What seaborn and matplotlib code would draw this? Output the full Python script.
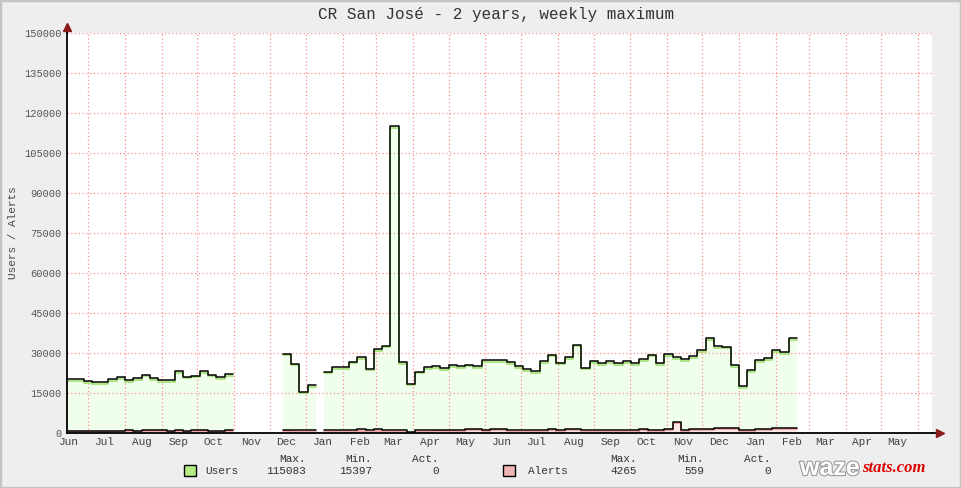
import matplotlib
matplotlib.use("Agg")
import matplotlib.pyplot as plt
import matplotlib.dates as mdates
import matplotlib.patheffects as pe
from matplotlib.patches import Rectangle
from matplotlib.transforms import offset_copy
import numpy as np
import pandas as pd
import seaborn as sns

nan = np.nan
# weekly maximum, one value per week starting 13 Jun 2013
users = [20100, 20100, 19400, 19000, 19000, 20250, 21000, 19750, 20500, 21900,
         20500, 19750, 19750, 23250, 21100, 21400, 23100, 21900, 21000, 22100,
         nan, nan, nan, nan, nan, nan,
         29750, 25900, 15397, 17900, nan, 22900, 24750, 24750, 26750, 28500,
         24100, 31400, 32750, 115083, 26500, 18400, 23000, 24750, 25100, 24250,
         25500, 25000, 25600, 25000, 27250, 27250, 27250, 26500, 25000, 24000,
         23100, 26900, 29400, 26400, 28400, 33100, 24500, 27000, 26250, 27000,
         26250, 26900, 26100, 27600, 29400, 26100, 29600, 28400, 27600, 28750,
         31000, 35600, 32600, 32400, 25500, 17500, 23500, 27250, 28100, 31100,
         30250, 35600]
alerts = [850, 850, 850, 850, 850, 850, 850, 1250, 850, 1250,
          1250, 1250, 850, 1250, 850, 1250, 1250, 850, 850, 1250,
          nan, nan, nan, nan, nan, nan,
          1200, 1000, 1000, 1000, nan, 1000, 1000, 1000, 1125, 1500,
          1125, 1500, 1125, 1125, 1125, 559, 1125, 1125, 1250, 1250,
          1125, 1125, 1600, 1600, 1250, 1600, 1600, 1125, 1125, 1125,
          1125, 1125, 1600, 1125, 1600, 1600, 1125, 1125, 1125, 1125,
          1125, 1125, 1125, 1600, 1125, 1125, 1600, 4265, 1125, 1600,
          1600, 1600, 2000, 2000, 2000, 1125, 1125, 1600, 1600, 2000,
          2000, 2000]

stat_heads = ["Max.", "Min.", "Act."]
users_stats = ["115083", "15397", "0"]
alerts_stats = ["4265", "559", "0"]

df = pd.DataFrame({"date": pd.date_range("2013-06-13", periods=len(users), freq="7D"),
                   "users": users, "alerts": alerts})
valid = df["users"].notna()
df["seg"] = (valid != valid.shift()).cumsum()
df = df[valid]
# close each segment with the end of its last week
tails = df.groupby("seg").tail(1).copy()
tails["date"] += pd.Timedelta(days=7)
steps = pd.concat([df, tails]).sort_values(["seg", "date"]).reset_index(drop=True)

sns.set_style("white")
plt.rcParams["font.family"] = ["Liberation Mono", "DejaVu Sans Mono"]

W, H = 961, 488
fig = plt.figure(figsize=(W / 100, H / 100), dpi=100, facecolor="#EEEEEE")
ax = fig.add_axes([67 / W, 55 / H, 865 / W, 400 / H])
ax.set_facecolor("white")

for _, g in steps.groupby("seg"):
    ax.fill_between(g["date"], g["users"], step="post", color="#F0FEEC", lw=0, zorder=1)
    ax.fill_between(g["date"], g["alerts"], step="post", color="#FFE6E6", lw=0, zorder=1.1)

shadow = offset_copy(ax.transData, fig=fig, x=0, y=-1.5, units="dots")
sns.lineplot(data=steps, x="date", y="users", units="seg", estimator=None,
             drawstyle="steps-post", color="#A6E27A", lw=1.3, transform=shadow, ax=ax, zorder=3)
sns.lineplot(data=steps, x="date", y="users", units="seg", estimator=None,
             drawstyle="steps-post", color="black", lw=1.1, ax=ax, zorder=4)
sns.lineplot(data=steps, x="date", y="alerts", units="seg", estimator=None,
             drawstyle="steps-post", color="#F2A0A0", lw=1.3, transform=shadow, ax=ax, zorder=3)
sns.lineplot(data=steps, x="date", y="alerts", units="seg", estimator=None,
             drawstyle="steps-post", color="black", lw=1.1, ax=ax, zorder=4)

ax.set_xlim(pd.Timestamp("2013-06-13"), pd.Timestamp("2015-06-13"))
ax.set_ylim(0, 150000)
ax.set_yticks(range(0, 150001, 15000))
ax.set_xlabel("")
ax.set_ylabel("")

ax.xaxis.set_major_locator(mdates.MonthLocator())
ax.xaxis.set_major_formatter(plt.NullFormatter())
ax.xaxis.set_minor_locator(mdates.MonthLocator(bymonthday=15))
ax.xaxis.set_minor_formatter(mdates.DateFormatter("%b"))
ax.tick_params(axis="x", which="both", length=0, pad=3, labelsize=8, labelcolor="#444444")
ax.tick_params(axis="y", length=3, width=0.8, color="#999999", pad=1, labelsize=7.5,
               labelcolor="#555555")

ax.grid(True, which="major", color="#FF8C8C", linestyle=(0, (1, 2)), lw=0.9)
ax.set_axisbelow(False)
for side in ["top", "right"]:
    ax.spines[side].set_visible(False)
for side in ["left", "bottom"]:
    ax.spines[side].set_color("black")
    ax.spines[side].set_linewidth(1.3)
    ax.spines[side].set_zorder(5)

# axis arrows
ax.plot([1, 1.006], [0, 0], transform=ax.transAxes, clip_on=False, color="black", lw=1.3)
ax.plot(1.0095, 0, marker=">", ms=5.5, color="#8B1A1A", transform=ax.transAxes, clip_on=False)
ax.plot([0, 0], [1, 1.01], transform=ax.transAxes, clip_on=False, color="black", lw=1.3)
ax.plot(0, 1.0145, marker="^", ms=5.5, color="#8B1A1A", transform=ax.transAxes, clip_on=False)

fig.text(496 / W, 1 - 15 / H, "CR San José - 2 years, weekly maximum", ha="center",
         va="center", fontsize=11.5, color="#333333")
fig.text(13 / W, 1 - 233 / H, "Users / Alerts", rotation=90, ha="center", va="center",
         fontsize=8, color="#444444")

# legend
head_y = 1 - 459 / H
row_y = 1 - 470.5 / H
for label, color, sw_x, text_x, cols, stats in [
        ("Users", "#B4EC84", 184, 205, [306, 372, 439], users_stats),
        ("Alerts", "#F0B4B4", 503, 528, [637, 704, 771], alerts_stats)]:
    fig.patches.append(Rectangle((sw_x / W, 1 - 476 / H), 12 / W, 11 / H, facecolor=color,
                                 edgecolor="black", lw=1, transform=fig.transFigure))
    fig.text(text_x / W, row_y, label, ha="left", va="center", fontsize=8, color="#333333")
    for cx, head, val in zip(cols, stat_heads, stats):
        fig.text(cx / W, head_y, head, ha="right", va="center", fontsize=8, color="#333333")
        fig.text(cx / W, row_y, val, ha="right", va="center", fontsize=8, color="#333333")

# wazestats logo
fig.text(800 / W, 1 - 475 / H, "waze", fontfamily="Liberation Sans", fontweight="bold",
         fontsize=18, color="white", ha="left", va="baseline",
         path_effects=[pe.withStroke(linewidth=1.6, foreground="#9A9A9A")])
fig.text(862 / W, 1 - 472 / H, "stats.com", fontfamily="Liberation Serif", fontstyle="italic",
         fontweight="bold", fontsize=12, color="#DD0000", ha="left", va="baseline")

fig.patches.append(Rectangle((0, 0), 1, 1, transform=fig.transFigure, fill=False,
                             edgecolor="#C4C4C4", lw=2.5))

fig.savefig("out.png", dpi=100, facecolor=fig.get_facecolor())
